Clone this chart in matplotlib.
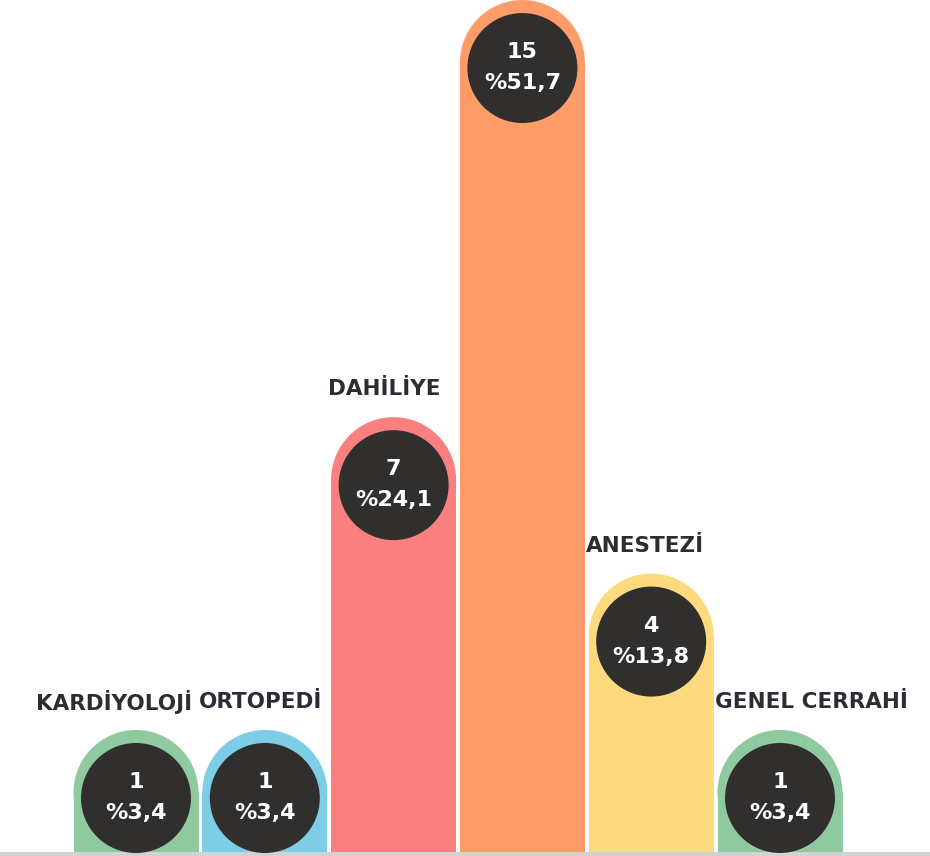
import matplotlib
matplotlib.use("Agg")
import matplotlib.pyplot as plt
from matplotlib.patches import Ellipse

# data
labels = ["KARDİYOLOJİ", "ORTOPEDİ", "DAHİLİYE", "", "ANESTEZİ", "GENEL CERRAHİ"]
counts = [1, 1, 7, 15, 4, 1]
percents = ["%3,4", "%3,4", "%24,1", "%51,7", "%13,8", "%3,4"]
colors = ["#8fc9a0", "#7ecde6", "#fa8080", "#fd9c68", "#fdda7d", "#8fc9a0"]

W, H = 930, 856
px_x = 128.8          # pixels per category step
px_y = 52.14          # pixels per count unit
base = -1.34          # bar foot in count units
bar_w = 125 / px_x
cap_ry = (bar_w * px_x / 2) / px_y

fig = plt.figure(figsize=(W / 100, H / 100), dpi=100)
ax = fig.add_axes([0, 0, 1, 1])
ax.set_xlim(-136 / px_x, (W - 136) / px_x)
ax.set_ylim(base - 4 / px_y, base + 852 / px_y)
ax.axis("off")

for i, v in enumerate(counts):
    # body of bar + round cap
    ax.bar(i, v - cap_ry - base, bottom=base, width=bar_w, color=colors[i], linewidth=0)
    ax.add_patch(Ellipse((i, v - cap_ry), bar_w, 2 * cap_ry, color=colors[i], lw=0))
    # dark disc with values
    cy = v - 68 / px_y
    ax.add_patch(Ellipse((i, cy), 110 / px_x, 110 / px_y, color="#312e2e", lw=0, zorder=3))
    ax.text(i, cy + 16 / px_y, str(v), color="white", fontsize=16, fontweight="bold",
            ha="center", va="center", zorder=4)
    ax.text(i, cy - 15 / px_y, percents[i], color="white", fontsize=16, fontweight="bold",
            ha="center", va="center", zorder=4)
    if labels[i]:
        if i == 0:
            ax.text(i + bar_w / 2 - 6 / px_x, v + 28 / px_y, labels[i], color="#2d2c35",
                    fontsize=15.5, fontweight="bold", ha="right", va="center")
        else:
            ax.text(i - bar_w / 2 - 3 / px_x, v + 28 / px_y, labels[i], color="#2d2c35",
                    fontsize=15.5, fontweight="bold", ha="left", va="center")

ax.axhspan(base - 4 / px_y, base, color="#d2d2d2", lw=0)

fig.savefig("out.png", dpi=100)
